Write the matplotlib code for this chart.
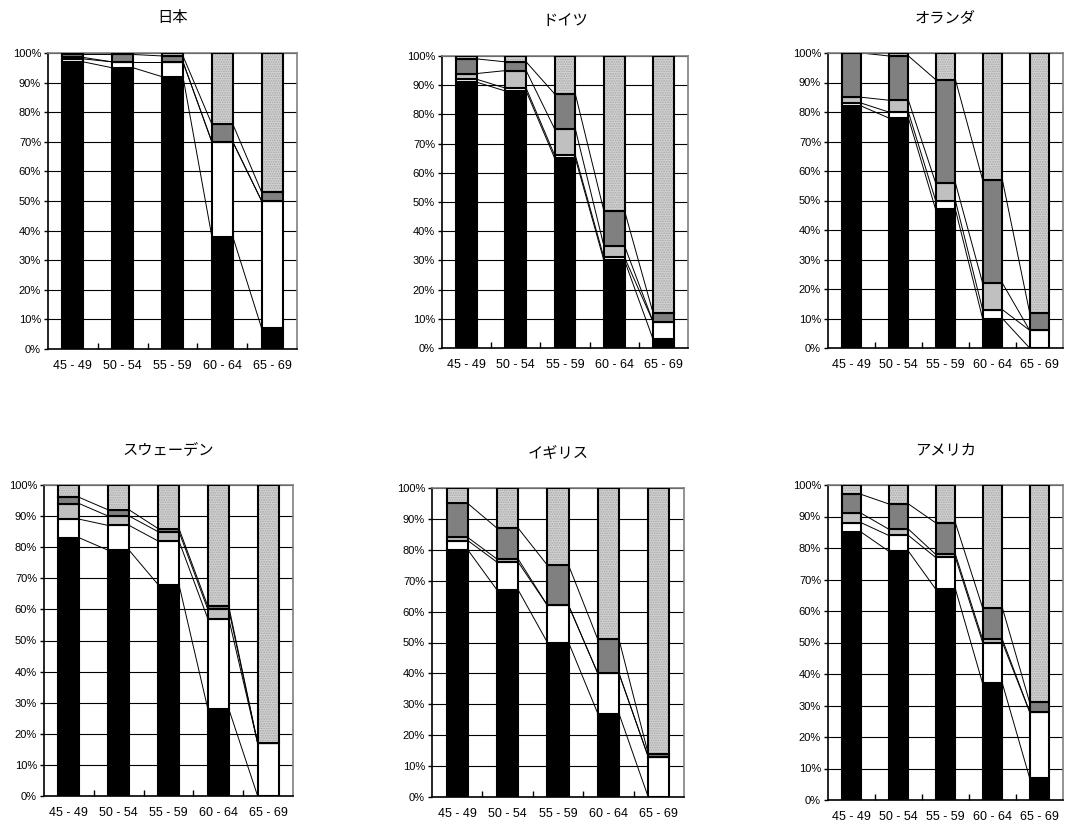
import numpy as np
import matplotlib
matplotlib.use('Agg')
from matplotlib import pyplot as plt
from matplotlib.ticker import PercentFormatter

plt.rcParams['font.family'] = ['Liberation Sans', 'Noto Sans CJK JP', 'DejaVu Sans']
plt.rcParams['hatch.color'] = '#a6a6a6'
plt.rcParams['hatch.linewidth'] = 0.8

AGES = ['45-49', '50-54', '55-59', '60-64', '65-69']
COUNTRIES = ['日本', 'ドイツ', 'オランダ', 'スウェーデン', 'イギリス', 'アメリカ']

# shares per age group, bottom to top: black / white / light gray / dark gray / dotted
japan_black = [97, 95, 92, 38, 7]
japan_white = [1, 2, 5, 32, 43]
japan_light = [0.5, 0, 0, 0, 0]
japan_dark = [1, 2.5, 2, 6, 3]
japan_dot = [0.5, 0.5, 1, 24, 47]

germany_black = [91, 88, 65, 30, 3]
germany_white = [1, 1, 1, 1, 6]
germany_light = [2, 6, 9, 4, 0]
germany_dark = [5, 3, 12, 12, 3]
germany_dot = [1, 2, 13, 53, 88]

nl_black = [82, 78, 47, 10, 0]
nl_white = [1, 2, 3, 3, 6]
nl_light = [2, 4, 6, 9, 0]
nl_dark = [15, 15, 35, 35, 6]
nl_dot = [0, 1, 9, 43, 88]

sweden_black = [83, 79, 68, 28, 0]
sweden_white = [6, 8, 14, 29, 17]
sweden_light = [5, 3, 3, 3, 0]
sweden_dark = [2, 2, 1, 1, 0]
sweden_dot = [4, 8, 14, 39, 83]

uk_black = [80, 67, 50, 27, 0]
uk_white = [3, 9, 12, 13, 13]
uk_light = [1, 1, 0, 0, 0]
uk_dark = [11, 10, 13, 11, 1]
uk_dot = [5, 13, 25, 49, 86]

us_black = [85, 79, 67, 37, 7]
us_white = [3, 5, 10, 13, 21]
us_light = [3, 2, 1, 1, 0]
us_dark = [6, 8, 10, 10, 3]
us_dot = [3, 6, 12, 39, 69]

DATA = [
    [japan_black, japan_white, japan_light, japan_dark, japan_dot],
    [germany_black, germany_white, germany_light, germany_dark, germany_dot],
    [nl_black, nl_white, nl_light, nl_dark, nl_dot],
    [sweden_black, sweden_white, sweden_light, sweden_dark, sweden_dot],
    [uk_black, uk_white, uk_light, uk_dark, uk_dot],
    [us_black, us_white, us_light, us_dark, us_dot],
]

FILLS = ['black', 'white', '#c0c0c0', '#808080', '#d2d2d2']

# axes boxes in pixels: left, right, top, bottom
W, H = 1067, 825
BOXES = [
    (48, 297, 53, 349),
    (442, 688, 56, 348),
    (828, 1063, 53, 348),
    (44, 293, 485, 796),
    (432, 684, 488, 797),
    (828, 1063, 485, 800),
]

BAR_W = 0.42

fig = plt.figure(figsize=(W / 100, H / 100), dpi=100)

for name, series, (l, r, t, b) in zip(COUNTRIES, DATA, BOXES):
    ax = fig.add_axes([l / W, 1 - b / H, (r - l) / W, (b - t) / H])
    x = np.arange(len(AGES))
    vals = np.array(series, dtype=float)
    cum = np.cumsum(vals, axis=0)
    bottoms = cum - vals

    for k in range(vals.shape[0]):
        if k == 4:
            # dotted fill: hatch first, outline on top
            ax.bar(x, vals[k], BAR_W, bottom=bottoms[k], color=FILLS[k],
                   hatch='.......', zorder=3)
            ax.bar(x, vals[k], BAR_W, bottom=bottoms[k], fill=False,
                   edgecolor='black', linewidth=1.5, zorder=4)
        else:
            ax.bar(x, vals[k], BAR_W, bottom=bottoms[k], color=FILLS[k],
                   edgecolor='black', linewidth=1.5, zorder=3)

    # series lines between neighbouring bars
    for k in range(vals.shape[0] - 1):
        for i in range(len(AGES) - 1):
            ax.plot([x[i] + BAR_W / 2, x[i + 1] - BAR_W / 2],
                    [cum[k][i], cum[k][i + 1]], color='black', lw=0.7,
                    zorder=2)

    ax.set_xlim(-0.5, len(AGES) - 0.5)
    ax.set_ylim(0, 100)
    ax.set_yticks(np.arange(0, 101, 10))
    ax.yaxis.set_major_formatter(PercentFormatter(decimals=0))
    ax.set_xticks(x)
    ax.set_xticklabels([a.replace('-', ' - ') for a in AGES], fontsize=9)
    ax.set_xticks(np.arange(0.5, len(AGES) - 0.5, 1), minor=True)
    ax.tick_params(axis='x', which='major', length=0, pad=8)
    ax.tick_params(axis='x', which='minor', direction='in', length=4, width=1)
    ax.tick_params(axis='y', labelsize=8, length=3, width=1, pad=2)
    ax.grid(axis='y', color='black', lw=0.8, zorder=1)
    ax.set_axisbelow(True)
    for s in ['left', 'bottom']:
        ax.spines[s].set_color('black')
        ax.spines[s].set_linewidth(1.2)
    for s in ['top', 'right']:
        ax.spines[s].set_color('#808080')
        ax.spines[s].set_linewidth(1.2)
    ax.set_title(name, fontsize=11, pad=22,
                 family=['Noto Sans CJK JP', 'DejaVu Sans'])

fig.savefig('out.png', dpi=100)
